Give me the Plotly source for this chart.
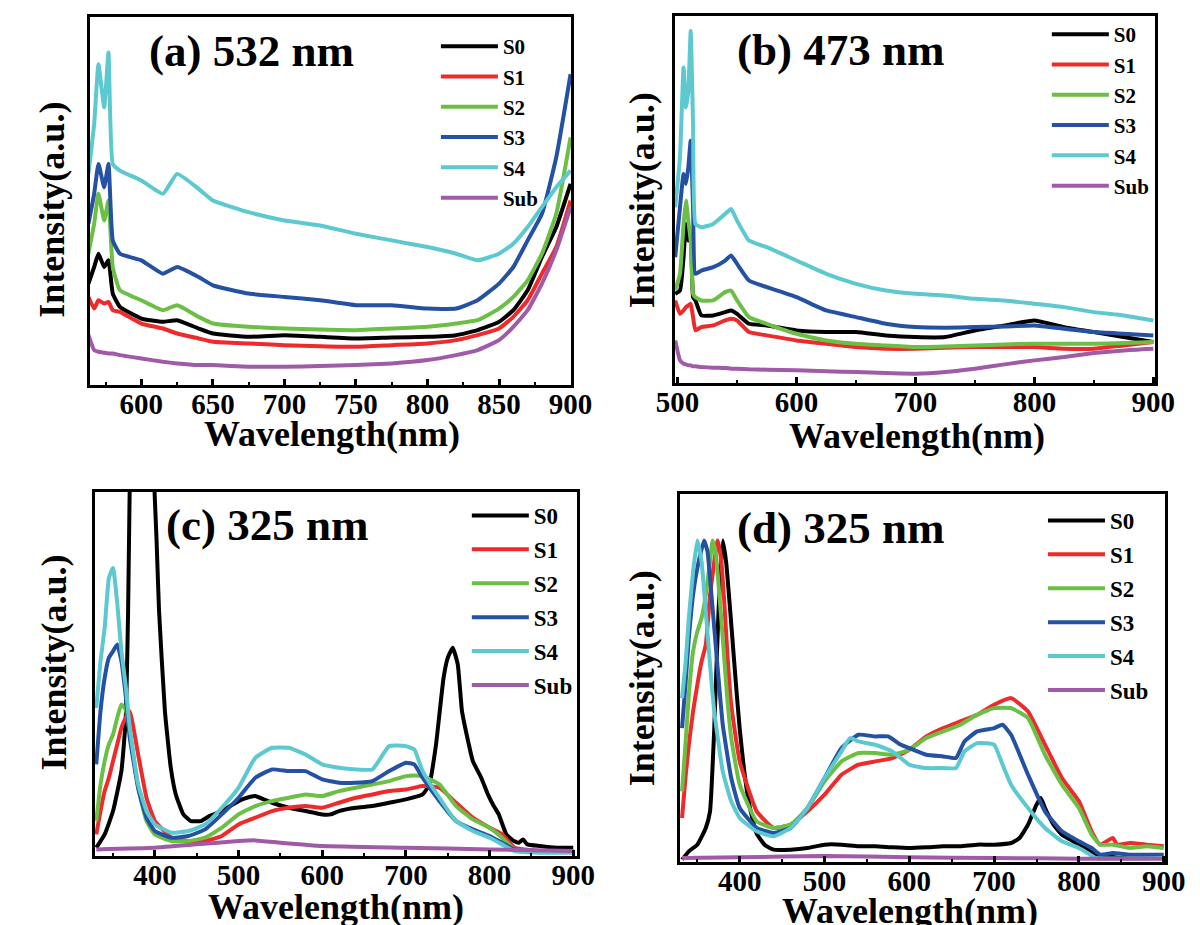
import plotly.graph_objects as go

# ---------------- Panel (a) 532 nm ----------------
A_X = [563, 567, 570, 574, 577, 580, 585, 600, 615, 625, 640, 650, 675, 700, 725,
       750, 775, 800, 820, 835, 850, 860, 870, 880, 890, 900]
A_S0 = [305, 355, 395, 355, 375, 275, 235, 200, 190, 195, 170, 155, 145, 150, 145,
        140, 143, 145, 150, 165, 190, 225, 285, 385, 475, 605]
A_S1 = [265, 230, 255, 245, 250, 225, 220, 185, 170, 155, 140, 130, 125, 120, 117,
        115, 120, 125, 135, 150, 170, 205, 255, 335, 415, 555]
A_S2 = [395, 485, 575, 495, 555, 355, 285, 255, 225, 240, 205, 185, 175, 170, 167,
        165, 170, 175, 185, 195, 230, 265, 315, 395, 515, 745]
A_S3 = [485, 575, 665, 595, 665, 435, 395, 375, 335, 355, 325, 300, 275, 265, 255,
        240, 240, 230, 230, 255, 305, 355, 435, 515, 685, 935]
A_S4 = [635, 785, 965, 835, 1000, 665, 645, 615, 575, 635, 590, 555, 520, 495, 480,
        455, 435, 415, 395, 375, 395, 425, 475, 535, 595, 645]
A_SUB = [150, 105, 100, 97, 95, 95, 90, 80, 70, 65, 60, 60, 55, 55, 57,
         60, 65, 75, 90, 105, 135, 175, 225, 305, 405, 535]

# ---------------- Panel (b) 473 nm ----------------
B_X = [498, 502, 505, 507, 509, 511, 513, 515, 520, 530, 540, 545, 550, 560, 575,
       600, 625, 650, 675, 700, 725, 750, 775, 800, 825, 850, 875, 900]
B_S0 = [268, 278, 378, 478, 428, 438, 258, 248, 203, 203, 213, 218, 208, 178, 173,
        158, 153, 153, 143, 138, 138, 158, 173, 188, 168, 153, 138, 123]
B_S1 = [248, 208, 218, 228, 233, 238, 198, 158, 168, 173, 188, 193, 188, 153, 143,
        128, 118, 108, 103, 103, 106, 108, 108, 108, 103, 103, 113, 123]
B_S2 = [278, 328, 478, 548, 488, 428, 268, 258, 248, 248, 273, 278, 248, 198, 178,
        148, 128, 118, 113, 108, 110, 113, 116, 118, 118, 118, 120, 123]
B_S3 = [378, 528, 628, 598, 648, 728, 528, 328, 338, 348, 368, 383, 358, 308, 288,
        258, 218, 198, 178, 168, 166, 168, 170, 173, 163, 153, 148, 143]
B_S4 = [528, 678, 948, 828, 878, 1058, 778, 478, 468, 478, 508, 523, 488, 428, 408,
        368, 328, 298, 278, 268, 263, 253, 248, 238, 228, 213, 203, 188]
B_SUB = [128, 68, 58, 56, 53, 53, 50, 50, 48, 46, 45, 43, 43, 41, 40,
         38, 35, 33, 30, 28, 33, 43, 56, 68, 78, 90, 98, 103]

# ---------------- Panel (c) 325 nm ----------------
C_S0_X = [330, 340, 350, 360, 365, 368, 372, 378, 385, 392, 398, 402, 405, 412, 419,
          425, 434, 443, 455, 465, 480, 490, 500, 510, 520, 530, 540, 560, 580, 600,
          610, 620, 640, 660, 680, 700, 720, 728, 736, 745, 750, 756, 762, 767, 773,
          780, 790, 798, 805, 811, 820, 829, 835, 840, 845, 860, 880, 900]
C_S0 = [25, 65, 135, 255, 405, 735, 1500, 2200, 2500, 2200, 1200, 950, 735, 435, 265,
        185, 125, 105, 105, 120, 135, 150, 165, 175, 180, 170, 160, 145, 135, 125,
        125, 135, 145, 150, 160, 170, 185, 215, 335, 535, 595, 625, 575, 435, 360,
        285, 235, 185, 150, 125, 65, 45, 40, 50, 35, 30, 25, 25]
C_X = [330, 335, 340, 345, 350, 355, 360, 365, 370, 380, 390, 400, 420, 440, 460,
       480, 500, 520, 540, 560, 580, 600, 620, 640, 660, 680, 700, 710, 720, 740,
       760, 780, 800, 815, 830, 860, 900]
C_S1 = [65, 135, 195, 235, 285, 335, 385, 415, 435, 305, 175, 105, 55, 45, 45,
        60, 95, 115, 135, 145, 150, 145, 160, 175, 185, 195, 200, 205, 210, 205,
        160, 115, 85, 65, 25, 15, 15]
C_S2 = [105, 215, 285, 335, 365, 415, 455, 440, 375, 205, 105, 65, 45, 45, 55,
        85, 125, 150, 165, 175, 185, 180, 195, 205, 215, 225, 240, 242, 240, 215,
        150, 110, 85, 55, 20, 15, 15]
C_S3 = [275, 435, 535, 595, 615, 635, 585, 485, 355, 205, 115, 75, 55, 60, 80,
        125, 175, 235, 260, 255, 255, 230, 220, 220, 225, 255, 280, 275, 235, 165,
        105, 80, 60, 40, 20, 15, 15]
C_S4 = [445, 585, 685, 835, 865, 760, 615, 515, 385, 215, 135, 95, 70, 75, 95,
        145, 205, 295, 325, 325, 305, 275, 265, 260, 260, 330, 330, 320, 255, 175,
        105, 75, 55, 35, 15, 10, 10]
C_SUB_X = [330, 400, 450, 500, 520, 550, 600, 700, 800, 900]
C_SUB = [20, 25, 35, 45, 47, 40, 30, 25, 20, 15]

# ---------------- Panel (d) 325 nm ----------------
D_S0_X = [332, 340, 350, 360, 365, 370, 375, 380, 384, 388, 392, 396, 400, 405, 410,
          415, 420, 430, 440, 460, 480, 500, 520, 540, 560, 580, 600, 620, 640, 660,
          680, 700, 720, 730, 740, 750, 755, 760, 770, 780, 790, 800, 820, 850, 900]
D_S0 = [7, 32, 52, 102, 152, 402, 752, 965, 900, 780, 650, 520, 400, 280, 190,
        130, 85, 50, 37, 37, 42, 52, 52, 47, 47, 44, 42, 44, 47, 47,
        52, 52, 57, 72, 112, 172, 192, 162, 112, 82, 67, 52, 22, 12, 12]
D_S1_X = [332, 336, 340, 345, 350, 355, 360, 365, 370, 374, 378, 382, 386, 390, 400,
          420, 440, 460, 480, 500, 520, 540, 560, 580, 600, 620, 640, 660, 680, 700,
          720, 740, 760, 780, 800, 815, 825, 840, 845, 860, 880, 900]
D_S1 = [132, 252, 352, 452, 532, 602, 652, 802, 902, 965, 912, 772, 602, 472, 302,
        152, 102, 112, 152, 202, 262, 292, 302, 312, 337, 377, 402, 422, 442, 472,
        492, 452, 352, 252, 182, 92, 52, 72, 52, 57, 52, 47]
D_S2_X = [332, 336, 340, 345, 350, 355, 360, 365, 368, 372, 376, 380, 385, 390, 400,
          420, 440, 460, 480, 500, 520, 540, 560, 580, 600, 620, 640, 660, 680, 700,
          720, 740, 760, 780, 800, 815, 825, 840, 860, 880, 900]
D_S2 = [212, 352, 502, 632, 692, 732, 802, 902, 965, 922, 802, 672, 502, 372, 232,
        122, 102, 112, 162, 242, 302, 327, 327, 322, 337, 372, 392, 412, 442, 462,
        462, 432, 322, 232, 162, 82, 52, 52, 42, 47, 42]
D_S3_X = [332, 336, 340, 345, 350, 358, 362, 366, 370, 375, 380, 390, 400, 420, 440,
          460, 480, 500, 520, 540, 560, 575, 590, 600, 620, 640, 655, 665, 680, 700,
          710, 720, 740, 760, 780, 800, 815, 825, 840, 860, 880, 900]
D_S3 = [402, 532, 672, 802, 882, 965, 932, 822, 702, 552, 412, 252, 162, 102, 87,
        102, 162, 252, 342, 382, 377, 377, 352, 342, 322, 317, 312, 362, 392, 402,
        412, 382, 262, 152, 92, 62, 42, 22, 27, 22, 22, 22]
D_S4_X = [332, 336, 340, 345, 350, 355, 360, 365, 370, 380, 390, 400, 420, 440, 460,
          480, 500, 520, 530, 540, 560, 580, 600, 620, 640, 655, 665, 680, 700, 710,
          720, 740, 760, 780, 800, 810, 820, 900]
D_S4 = [492, 592, 732, 872, 965, 902, 752, 592, 452, 272, 182, 132, 92, 77, 102,
        162, 252, 332, 372, 362, 352, 332, 292, 282, 282, 282, 332, 357, 352, 292,
        232, 162, 102, 62, 42, 27, 12, 12]
D_SUB_X = [332, 400, 500, 600, 700, 800, 900]
D_SUB = [12, 14, 18, 14, 12, 10, 10]

NAMES = ["S0", "S1", "S2", "S3", "S4", "Sub"]
COLORS = ["#000000", "#ee2a2a", "#6cbf45", "#2451a3", "#5cc8cf", "#a05aa8"]

PANELS = [
    dict(series=[(A_X, A_S0), (A_X, A_S1), (A_X, A_S2), (A_X, A_S3), (A_X, A_S4), (A_X, A_SUB)],
         xr=[564, 900.5], yr=[0, 1107], dtick=50, minor=25,
         xd=[0.0542, 0.4692], yd=[0.5924, 0.9903], legend="legend"),
    dict(series=[(B_X, B_S0), (B_X, B_S1), (B_X, B_S2), (B_X, B_S3), (B_X, B_S4), (B_X, B_SUB)],
         xr=[497.5, 901.5], yr=[0, 1103], dtick=100, minor=50,
         xd=[0.5583, 0.9725], yd=[0.5946, 0.9914], legend="legend2"),
    dict(series=[(C_S0_X, C_S0), (C_X, C_S1), (C_X, C_S2), (C_X, C_S3), (C_X, C_S4), (C_SUB_X, C_SUB)],
         xr=[328, 904], yr=[0, 1093], dtick=100, minor=50,
         xd=[0.0583, 0.4738], yd=[0.0832, 0.4768], legend="legend3"),
    dict(series=[(D_S0_X, D_S0), (D_S1_X, D_S1), (D_S2_X, D_S2), (D_S3_X, D_S3), (D_S4_X, D_S4), (D_SUB_X, D_SUB)],
         xr=[329, 902], yr=[0, 1105], dtick=100, minor=50,
         xd=[0.5625, 0.9814], yd=[0.0768, 0.4746], legend="legend4"),
]

FONT = "Liberation Serif"
fig = go.Figure()
W, H = 1200, 925

for i, p in enumerate(PANELS):
    n = "" if i == 0 else str(i + 1)
    for (xs, ys), name, col in zip(p["series"], NAMES, COLORS):
        fig.add_trace(go.Scatter(
            x=xs, y=ys, mode="lines", name=name,
            line=dict(color=col, width=4, shape="spline", smoothing=0.4),
            xaxis="x" + n, yaxis="y" + n, legend=p["legend"],
            legendgroup=p["legend"] + name))
    fig.layout["xaxis" + n] = dict(
        domain=p["xd"], anchor="y" + n, range=p["xr"], dtick=p["dtick"], tick0=0,
        showline=True, linewidth=2.5, linecolor="black", mirror=True,
        ticks="inside", ticklen=6, tickwidth=2.5, tickcolor="black",
        minor=dict(dtick=p["minor"], ticks="inside", ticklen=3.5, tickwidth=2, tickcolor="black"),
        showgrid=False, zeroline=False, ticklabelstandoff=-9,
        tickfont=dict(family=FONT, size=29, color="black", weight="bold"))
    fig.layout["yaxis" + n] = dict(
        domain=p["yd"], anchor="x" + n, range=p["yr"],
        showline=True, linewidth=2.5, linecolor="black", mirror=True,
        showticklabels=False, ticks="", showgrid=False, zeroline=False)

# legends: (key, left px, top px, font size, group gap)
LEG = [("legend", 423, 18, 21, 0), ("legend2", 1055, 6, 21, 0),
       ("legend3", 455, 486, 23, 1), ("legend4", 1051, 491, 23, 1)]
for key, lx, ly, fs, gap in LEG:
    fig.layout[key] = dict(
        x=lx / W, y=1 - ly / H, xanchor="left", yanchor="top",
        bgcolor="rgba(0,0,0,0)", borderwidth=0, tracegroupgap=gap,
        font=dict(family=FONT, size=fs, color="black", weight="bold"),
        itemwidth=57)

# panel titles and axis titles
TITLES = [("(a) 532 nm", 232, 43), ("(b) 473 nm", 842, 42),
          ("(c) 325 nm", 248, 517), ("(d) 325 nm", 842, 520)]
for t, x, y in TITLES:
    fig.add_annotation(text=t, x=x / W, y=1 - y / H, xref="paper", yref="paper",
                       showarrow=False, xanchor="center", yanchor="middle",
                       font=dict(family=FONT, size=45, color="black", weight="bold"))
XT = [(316, 426), (921, 428), (320, 899), (913, 903)]
for x, y in XT:
    fig.add_annotation(text="Wavelength(nm)", x=x / W, y=1 - y / H, xref="paper", yref="paper",
                       showarrow=False, xanchor="center", yanchor="middle",
                       font=dict(family=FONT, size=36, color="black", weight="bold"))
YT = [(25.5, 202), (636.5, 192), (27.5, 655), (636.5, 670)]
for x, y in YT:
    fig.add_annotation(text="Intensity(a.u.)", x=x / W, y=1 - y / H, xref="paper", yref="paper",
                       showarrow=False, xanchor="center", yanchor="middle", textangle=-90,
                       font=dict(family=FONT, size=36, color="black", weight="bold"))

fig.update_layout(width=W, height=H, margin=dict(l=0, r=0, t=0, b=0),
                  plot_bgcolor="white", paper_bgcolor="white", showlegend=True)
fig.write_html("out.html")
